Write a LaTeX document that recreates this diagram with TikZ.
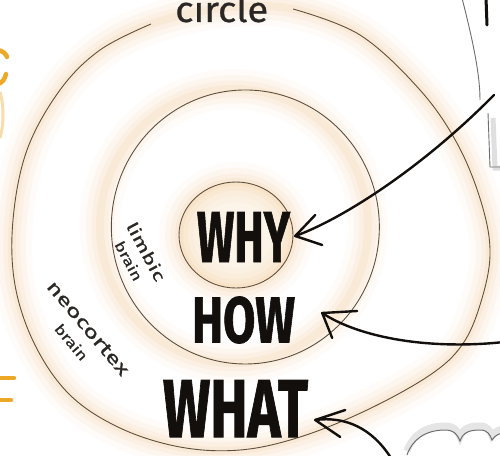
\documentclass[tikz,border=0pt]{standalone}
\usepackage{fontspec}
\setmainfont{Fira Sans}
\newfontfamily\heavyfont[BoldFeatures={FakeBold=1.2}]{Fira Sans}
\newfontfamily\handfont[FakeBold=0.6]{Fira Sans}
\usetikzlibrary{calc}
\definecolor{glow}{RGB}{240,190,120}
\definecolor{ring}{RGB}{95,80,62}
\definecolor{ink}{RGB}{18,15,12}
\definecolor{marker}{RGB}{238,168,40}
\definecolor{sketch}{RGB}{110,110,110}
\newcommand\ringglow[1]{%
  \draw[glow, line width=40pt, opacity=.05] #1;
  \draw[glow, line width=28pt, opacity=.07] #1;
  \draw[glow, line width=17pt, opacity=.09] #1;
  \draw[glow, line width=8pt, opacity=.10] #1;}
\newcommand\bigword[3]{\resizebox{#1}{#2}{\heavyfont\bfseries #3}}
\tikzset{
  ringline/.style={ring, line width=0.9pt},
  arrowline/.style={ink, line width=2.4pt, line cap=round, line join=round},
  hand/.style={inner sep=0pt, text=ink!90},
  word/.style={inner sep=0pt, text=ink},
  markerline/.style={marker, line width=4.5pt, line cap=round}
}
\begin{document}
\begin{tikzpicture}[x=1pt,y=-1pt]
\useasboundingbox (0,0) rectangle (500,455);
\clip (0,0) rectangle (500,455);
\fill[white] (0,0) rectangle (500,455);
% glows
\ringglow{plot[smooth cycle, tension=0.6] coordinates {(222,8) (293,9) (360,35) (420,90) (458,145) (482,205) (490,255) (480,305) (462,345) (430,375) (367,410) (300,437) (240,450) (180,447) (120,428) (70,395) (35,345) (15,285) (13,220) (27,150) (60,90) (100,50) (151,24)}}
\ringglow{(234,226) ellipse [x radius=134pt, y radius=137pt]}
\fill[glow, opacity=.16] (236,235) ellipse [x radius=57pt, y radius=53pt];
\ringglow{(236,235) ellipse [x radius=57pt, y radius=53pt]}
% rings
\draw[ringline] plot[smooth, tension=0.6] coordinates {(293,9) (360,35) (420,90) (458,145) (482,205) (490,255) (480,305) (462,345) (430,375) (367,410) (300,437) (240,450) (180,447) (120,428) (70,395) (35,345) (15,285) (13,220) (27,150) (60,90) (100,50) (151,24)};
\draw[ringline] (243,90) arc[start angle=91, end angle=-269, x radius=134pt, y radius=137pt];
\draw[ringline] (236,235) ellipse [x radius=57pt, y radius=53pt];
% texts
\node[hand, anchor=base west, font=\handfont] (circ) at (175,22) {\resizebox{93pt}{28pt}{circle}};
\node[hand, rotate=-62, align=center, font=\handfont\fontsize{16}{19}\selectfont] (limbic) at (138,256)
  {\scalebox{1.45}[1]{limbic}\\\scalebox{1.3}[1]{\fontsize{14}{15}\selectfont brain}};
\node[hand, rotate=-50, align=center, font=\handfont\fontsize{18}{21}\selectfont] (neo) at (80,335)
  {\scalebox{1.45}[1]{neocortex}\\\scalebox{1.3}[1]{\fontsize{14}{15}\selectfont brain}};
\node[word] (WHY) at (243.5,237) {\bigword{93pt}{50pt}{WHY}};
\node[word] (HOW) at (243.5,320) {\bigword{103pt}{46pt}{HOW}};
\node[word] (WHAT) at (235.5,408.5) {\bigword{145pt}{57pt}{WHAT}};
% arrows
\coordinate (s1) at (494,95);
\coordinate (t1) at ($(WHY.east)+(5,-1)$);
\draw[arrowline] (s1) .. controls (420,170) and (340,220) .. (t1);
\draw[arrowline] ($(t1)+(20,-21)$) -- (t1) -- ($(t1)+(27,9)$);
\coordinate (s2) at (504,342);
\coordinate (t2) at ($(HOW.east)+(27,-7)$);
\draw[arrowline] (s2) .. controls (430,350) and (360,338) .. (t2);
\draw[arrowline] ($(t2)+(35,-2)$) -- (t2) -- ($(t2)+(10,25)$);
\coordinate (s3) at (391,458);
\coordinate (t3) at ($(WHAT.east)+(7,11.5)$);
\draw[arrowline] (s3) .. controls (372,428) and (345,416) .. (t3);
\draw[arrowline] ($(t3)+(30,-10)$) -- (t3) -- ($(t3)+(25,17)$);
% top right sheet
\draw[sketch, line width=0.9pt] (462,-2) .. controls (470,30) and (480,70) .. (480,100);
\draw[gray!25, line width=5pt] (493,118) -- (495,168) -- (505,168);
\draw[sketch, line width=0.9pt] (488,113) -- (490,167) -- (502,167);
\draw[ink, line width=3pt, line cap=round] (486,-2) -- (487,25);
% bottom right cloud
\draw[gray!20, line width=7pt] (407,451) .. controls (412,436) and (425,426) .. (445,426) .. controls (455,426) and (458,432) .. (460,437) .. controls (463,428) and (470,426) .. (480,426) .. controls (488,426) and (490,431) .. (492,436) .. controls (495,431) and (500,429) .. (505,429);
\draw[sketch, line width=1pt] (407,455) .. controls (412,440) and (425,430) .. (445,430) .. controls (455,430) and (458,436) .. (460,441) .. controls (463,432) and (470,430) .. (480,430) .. controls (488,430) and (490,435) .. (492,440) .. controls (495,435) and (500,433) .. (505,433);
% left orange marks
\draw[markerline] (-2,50) .. controls (3,51) and (6,54) .. (7,57);
\draw[markerline] (6,74) .. controls (5,79) and (2,83) .. (-2,84);
\draw[marker!40, line width=3pt] (0,92) .. controls (4,105) and (4,125) .. (0,138);
\draw[markerline] (-2,378) -- (14,378);
\draw[markerline] (-2,400) -- (11,400);
\end{tikzpicture}
\end{document}
